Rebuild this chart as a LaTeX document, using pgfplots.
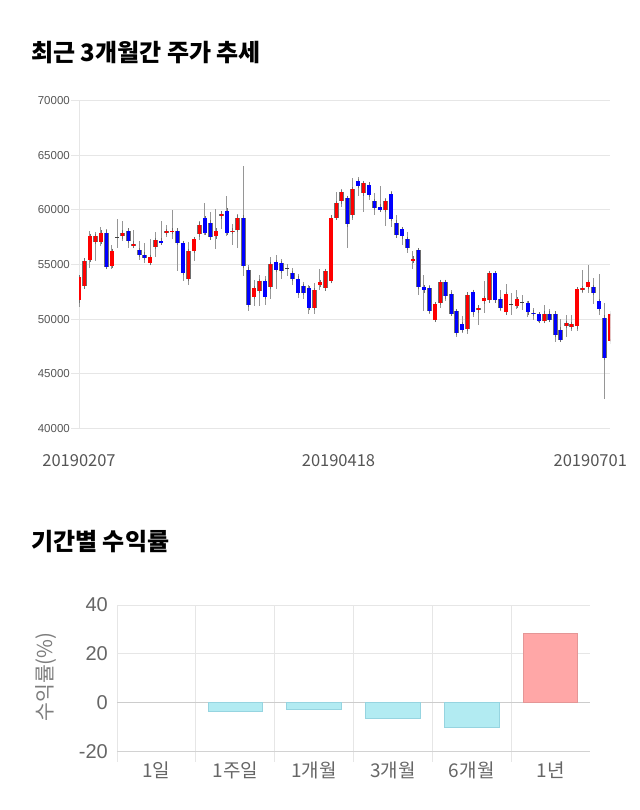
\documentclass[border=0pt]{standalone}
\usepackage{fontspec}
\setmainfont{Noto Sans CJK KR}
\newfontfamily\arialf{Liberation Sans}
\usepackage{pgfplots}
\pgfplotsset{compat=1.18}
\usepackage{pgfplotstable}

\definecolor{gridc}{RGB}{230,230,230}
\definecolor{lblc}{RGB}{85,85,85}
\definecolor{lblc2}{RGB}{102,102,102}
\definecolor{upc}{RGB}{255,0,0}
\definecolor{dnc}{RGB}{0,0,255}
\definecolor{wickc}{RGB}{150,150,150}
\definecolor{edgec}{RGB}{110,110,110}
\definecolor{negfill}{RGB}{178,235,242}
\definecolor{negdraw}{RGB}{150,212,224}
\definecolor{posfill}{RGB}{255,167,167}
\definecolor{posdraw}{RGB}{228,150,150}

% up candles (red): x open high low close
\pgfplotstableread{
x o h l c
0 51707 53900 51097 53841
1 52987 55518 52835 55366
2 55427 58110 54695 57622
3 57104 57957 55366 57622
4 57104 58415 56737 57927
6 54878 56829 54573 56250
8 57591 59024 57134 57927
10 56677 58171 56585 56920
13 55122 57378 55061 55701
14 56585 58018 55732 57256
16 57896 58658 57500 58049
17 57988 60000 57347 58110
20 53689 57043 53079 56250
21 56219 57561 55366 57317
22 57774 58963 57286 58658
25 57591 60091 56402 58110
26 59421 59878 58293 59665
28 57988 58719 56798 58110
29 58201 59634 56494 59299
32 52012 53597 51188 52835
33 52560 53994 51188 53445
35 52926 55670 51859 55000
43 51005 53292 50487 52621
44 53109 54603 52621 53414
45 52804 54420 52743 54420
46 53475 59299 53475 59299
47 59299 61616 59177 60610
48 60793 61921 60305 61616
50 59512 62927 59085 61921
52 61525 62683 59787 62439
56 60000 61098 58506 60823
61 55335 56219 54573 55549
65 49938 51400 49938 51341
66 51493 53414 51005 53414
71 49085 52225 48658 52225
73 50792 51188 49420 51036
74 51615 53445 50548 51951
75 51707 54207 51707 54207
78 50609 53170 50548 52317
80 51188 52621 50944 51798
85 49817 51310 49725 50487
89 49359 50335 48353 49634
90 49268 50335 48902 49512
91 49329 52713 48902 52713
92 52713 54512 52408 52835
93 52926 54969 52408 53414
97 47956 50600 47900 50487
}\upT

% down candles (blue)
\pgfplotstableread{
x o h l c
5 57927 58293 54756 54756
9 58110 58262 56524 57195
11 56341 57195 55427 55884
12 55914 57012 55152 55579
15 57195 59024 56829 57012
18 58110 58110 54390 57012
19 56981 57000 53475 54207
23 59238 60610 57683 57927
24 58841 59787 57439 57500
27 59939 61311 57591 57896
30 59299 63994 53932 54908
31 54542 54969 50731 51310
34 53445 53902 51310 52012
36 55244 55884 52713 54512
37 55122 55549 53628 54420
39 54207 54695 53140 53689
40 53719 54146 51951 52408
41 53018 53384 51829 52377
42 52804 53079 50487 51005
49 61098 61311 56524 58689
51 62622 63049 61250 62195
53 62317 62531 60915 61403
54 60793 61525 59543 60183
55 60305 62226 59878 60000
57 61433 61707 58415 59177
58 58841 59543 57500 57683
59 58232 58476 56798 57591
60 57317 58018 56036 56524
62 56311 56311 52225 52926
63 52926 53994 50731 52621
64 52804 53079 50426 50731
67 53414 53414 51646 52073
68 52317 52682 50274 50487
69 50731 50731 48353 48719
70 49512 50243 48719 49024
72 52499 52499 50182 50609
76 54207 54207 51707 51707
77 51829 52621 50731 51005
82 51493 51646 50182 50609
83 50579 51005 49878 50487
84 50426 50426 49725 49817
86 50487 50944 49878 49938
87 50487 50487 47895 48566
88 49024 50030 47895 48109
94 52926 53780 51402 52408
95 51615 54085 50335 50914
96 50122 51463 42712 46432
}\dnT

% doji candles (open = close)
\pgfplotstableread{
x o h l c
7 57480 59177 56524 57480
38 54620 55061 53932 54620
79 51310 52408 50335 51310
81 51493 52164 50792 51493
}\djT

\pgfplotsset{
  wick/.style={draw=none, mark=none, forget plot,
    error bars/.cd, y dir=both, y explicit, error mark=none,
    error bar style={line width=0.9bp, draw=wickc}},
  bodyedge/.style={draw=none, mark=none, forget plot,
    error bars/.cd, y dir=both, y explicit, error mark=-,
    error mark options={line width=0.6bp, mark size=2.3bp, draw=edgec},
    error bar style={line width=4.6bp, draw=edgec}},
  bodyfill/.style={draw=none, mark=none, forget plot,
    error bars/.cd, y dir=both, y explicit, error mark=none,
    error bar style={line width=3.4bp, draw=#1}},
}

\begin{document}
\begin{tikzpicture}
\path[use as bounding box] (0,0) rectangle (640bp,810bp);

\node[anchor=west, inner sep=0pt, font=\bfseries\fontsize{24bp}{28bp}\selectfont] at (31bp,757bp) {최근 3개월간 주가 추세};
\node[anchor=west, inner sep=0pt, font=\bfseries\fontsize{24bp}{28bp}\selectfont] at (31bp,268bp) {기간별 수익률};

\begin{axis}[
  at={(79bp,381.7bp)}, anchor=south west,
  scale only axis, width=531bp, height=327.6bp,
  xmin=0, xmax=97, ymin=40000, ymax=70000,
  scaled y ticks=false, scaled x ticks=false,
  axis lines=left, axis line style={draw=gridc, -},
  ymajorgrids, grid style={draw=gridc, line width=0.8bp},
  ytick={40000,45000,50000,55000,60000,65000,70000},
  yticklabels={40000,45000,50000,55000,60000,65000,70000},
  yticklabel style={font=\arialf\fontsize{11.5bp}{13bp}\selectfont, text=lblc, inner sep=1bp},
  tick align=outside, major tick length=8bp,
  ytick style={draw=gridc, line width=0.8bp},
  xtick={0,47.4,93.4},
  xticklabels={20190207,20190418,20190701},
  xtick style={draw=none},
  xticklabel style={font=\fontsize{16.5bp}{19bp}\selectfont, text=lblc, yshift=-15bp},
  clip=true,
]
\addplot[wick] table[x=x, y expr={(\thisrow{h}+\thisrow{l})/2}, y error expr={(\thisrow{h}-\thisrow{l})/2}] {\upT};
\addplot[wick] table[x=x, y expr={(\thisrow{h}+\thisrow{l})/2}, y error expr={(\thisrow{h}-\thisrow{l})/2}] {\dnT};
\addplot[wick] table[x=x, y expr={(\thisrow{h}+\thisrow{l})/2}, y error expr={(\thisrow{h}-\thisrow{l})/2}] {\djT};
\addplot[bodyedge] table[x=x, y expr={(\thisrow{o}+\thisrow{c})/2}, y error expr={abs(\thisrow{c}-\thisrow{o})/2}] {\upT};
\addplot[bodyedge] table[x=x, y expr={(\thisrow{o}+\thisrow{c})/2}, y error expr={abs(\thisrow{c}-\thisrow{o})/2}] {\dnT};
\addplot[bodyfill=upc] table[x=x, y expr={(\thisrow{o}+\thisrow{c})/2}, y error expr={abs(\thisrow{c}-\thisrow{o})/2}] {\upT};
\addplot[bodyfill=dnc] table[x=x, y expr={(\thisrow{o}+\thisrow{c})/2}, y error expr={abs(\thisrow{c}-\thisrow{o})/2}] {\dnT};
\addplot[draw=none, mark=none, forget plot,
  error bars/.cd, x dir=both, x fixed=0.36, error mark=none,
  error bar style={line width=1.1bp, draw=black!75}] table[x=x, y=c] {\djT};
\end{axis}

\begin{axis}[
  at={(117bp,58.5bp)}, anchor=south west,
  scale only axis, width=473bp, height=146.5bp,
  xmin=0, xmax=6, ymin=-20, ymax=40,
  axis lines=left, axis line style={draw=gray!35, -},
  ymajorgrids, grid style={draw=gridc, line width=0.8bp},
  ytick={-20,0,20,40}, yticklabels={-20,0,20,40},
  extra y ticks={0}, extra y tick labels={},
  extra y tick style={grid style={draw=gray!40, line width=1bp}},
  yticklabel style={font=\arialf\fontsize{20bp}{24bp}\selectfont, text=lblc2, inner sep=0pt, xshift=-9bp},
  xtick={0.5,1.5,2.5,3.5,4.5,5.5},
  xticklabels={1일,1주일,1개월,3개월,6개월,1년},
  xticklabel style={font=\fontsize{19bp}{23bp}\selectfont, text=lblc2, yshift=-7bp},
  minor xtick={0,1,2,3,4,5},
  xminorgrids, minor grid style={draw=gridc, line width=0.8bp},
  tick align=outside, major tick length=0bp, minor tick length=10bp,
  minor tick style={draw=gridc, line width=0.8bp},
  y axis line style={draw=gridc},
]
\addplot[ybar, bar width=0.69, bar shift=0pt, fill=negfill, draw=negdraw, line width=0.8bp]
  coordinates {(1.5,-3.7) (2.5,-2.7) (3.5,-6.4) (4.5,-10.0)};
\addplot[ybar, bar width=0.69, bar shift=0pt, fill=posfill, draw=posdraw, line width=0.8bp]
  coordinates {(5.5,28.3)};
\end{axis}

\node[rotate=90, font=\fontsize{20.5bp}{24bp}\selectfont, text=lblc2!85] at (46bp,133bp) {수익률(\%)};
\end{tikzpicture}
\end{document}
